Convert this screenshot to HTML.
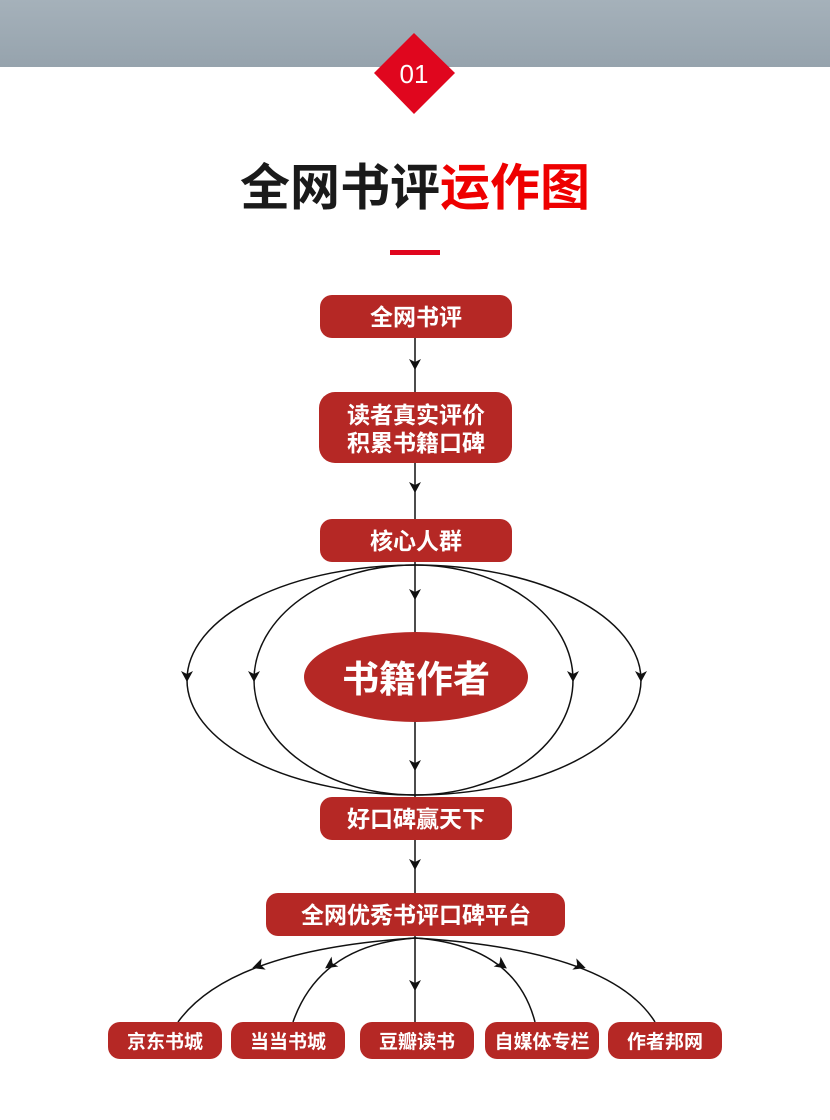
<!DOCTYPE html>
<html><head><meta charset="utf-8"><style>
body{margin:0;width:830px;height:1120px;background:#fff;overflow:hidden;font-family:"Liberation Sans","Noto Sans CJK SC",sans-serif}
</style></head><body>
<svg width="830" height="1120" viewBox="0 0 830 1120" xmlns="http://www.w3.org/2000/svg" style="position:absolute;left:0;top:0">
<defs>
<linearGradient id="g" x1="0" y1="0" x2="0" y2="1"><stop offset="0" stop-color="#a5b1ba"/><stop offset="1" stop-color="#96a3ad"/></linearGradient>
</defs>
<rect x="0" y="0" width="830" height="67" fill="url(#g)"/>
<polygon points="414,33 455,73 414,114 374,73" fill="#e0061e"/>
<text x="414" y="83" font-size="26" fill="#fff" text-anchor="middle" font-family="Liberation Sans,sans-serif">01</text>
<text x="415" y="205" font-size="50" font-weight="bold" text-anchor="middle" font-family="Liberation Sans,Noto Sans CJK SC,sans-serif"><tspan fill="#1a1a1a">全网书评</tspan><tspan fill="#ee0000">运作图</tspan></text>
<rect x="390" y="250" width="50" height="5" fill="#e0061e"/>
<g stroke="#111" stroke-width="1.5" fill="none">
<line x1="415" y1="338" x2="415" y2="392"/>
<line x1="415" y1="463" x2="415" y2="519"/>
<line x1="415" y1="562" x2="415" y2="797"/>
<line x1="415" y1="840" x2="415" y2="893"/>
<line x1="415" y1="936" x2="415" y2="1022"/>
<path d="M415,565 A228,115 0 0 0 415,795"/>
<path d="M415,565 A161,115 0 0 0 415,795"/>
<path d="M415,565 A158,115 0 0 1 415,795"/>
<path d="M415,565 A226,115 0 0 1 415,795"/>
<path d="M415,938 Q230,950 178,1022"/>
<path d="M415,938 Q320,945 293,1022"/>
<path d="M415,938 Q515,945 535,1022"/>
<path d="M415,938 Q610,950 655,1022"/>
</g>
<g fill="#111">
<path d="M409,359 L415,370 L421,359 L415,362z"/>
<path d="M409,482 L415,493 L421,482 L415,485z"/>
<path d="M409,589 L415,600 L421,589 L415,592z"/>
<path d="M409,760 L415,771 L421,760 L415,763z"/>
<path d="M409,859 L415,870 L421,859 L415,862z"/>
<path d="M409,980 L415,991 L421,980 L415,983z"/>
<path d="M181,671 L187,682 L193,671 L187,674z"/>
<path d="M248,671 L254,682 L260,671 L254,674z"/>
<path d="M567,671 L573,682 L579,671 L573,674z"/>
<path d="M635,671 L641,682 L647,671 L641,674z"/>
<path d="M-6,-6 L6,0 L-6,6 L-3,0z" transform="translate(258,966) rotate(160.5)"/>
<path d="M-6,-6 L6,0 L-6,6 L-3,0z" transform="translate(330,965) rotate(145.5)"/>
<path d="M-6,-6 L6,0 L-6,6 L-3,0z" transform="translate(502,965) rotate(35)"/>
<path d="M-6,-6 L6,0 L-6,6 L-3,0z" transform="translate(580,966) rotate(19.3)"/>
</g>
<g fill="#b52825">
<rect x="320" y="295" width="192" height="43" rx="12"/>
<rect x="319" y="392" width="193" height="71" rx="16"/>
<rect x="320" y="519" width="192" height="43" rx="12"/>
<ellipse cx="416" cy="677" rx="112" ry="45"/>
<rect x="320" y="797" width="192" height="43" rx="12"/>
<rect x="266" y="893" width="299" height="43" rx="12"/>
<rect x="108" y="1022" width="114" height="37" rx="12"/>
<rect x="231" y="1022" width="114" height="37" rx="12"/>
<rect x="360" y="1022" width="114" height="37" rx="12"/>
<rect x="485" y="1022" width="114" height="37" rx="12"/>
<rect x="608" y="1022" width="114" height="37" rx="12"/>
</g>
<g fill="#fff" font-weight="bold" text-anchor="middle" font-family="Liberation Sans,Noto Sans CJK SC,sans-serif">
<text x="416" y="325" font-size="23">全网书评</text>
<text x="416" y="423" font-size="23">读者真实评价</text>
<text x="416" y="451" font-size="23">积累书籍口碑</text>
<text x="416" y="549" font-size="23">核心人群</text>
<text x="416" y="692" font-size="37">书籍作者</text>
<text x="416" y="827" font-size="23">好口碑赢天下</text>
<text x="416" y="923" font-size="23">全网优秀书评口碑平台</text>
<text x="165" y="1048" font-size="19">京东书城</text>
<text x="288" y="1048" font-size="19">当当书城</text>
<text x="417" y="1048" font-size="19">豆瓣读书</text>
<text x="542" y="1048" font-size="19">自媒体专栏</text>
<text x="665" y="1048" font-size="19">作者邦网</text>
</g>
</svg>
</body></html>
